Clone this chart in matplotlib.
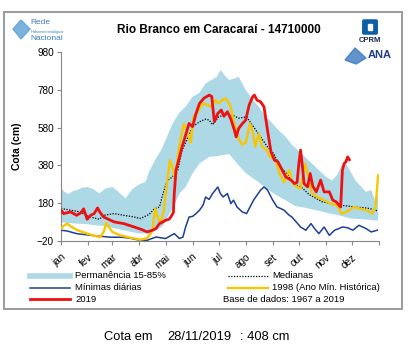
import matplotlib
matplotlib.use("Agg")
import matplotlib.pyplot as plt
import matplotlib.transforms as mtransforms
from matplotlib.patches import Rectangle, Polygon, FancyBboxPatch

plt.rcParams["font.family"] = ["Liberation Sans", "DejaVu Sans"]

# ── data (day of year, cota in cm) ──────────────────────────────────────────
months = ["jan", "fev", "mar", "abr", "mai", "jun", "jul", "ago", "set", "out", "nov", "dez"]
month_starts = [1, 32, 60, 91, 121, 152, 182, 213, 244, 274, 305, 335, 366]

band_days = [1, 5, 10, 15, 20, 25, 31, 38, 45, 52, 60, 68, 75, 83, 91, 98, 102, 110, 116,
             121, 129, 137, 144, 152, 160, 167, 175, 180, 184, 190, 194, 200, 205, 213, 220,
             228, 236, 244, 252, 259, 266, 274, 282, 289, 297, 305, 312, 318, 323, 328, 333,
             339, 345, 351, 357, 361, 365]
band_top = [260, 240, 228, 245, 250, 262, 266, 255, 232, 258, 266, 236, 205, 255, 280, 293,
            346, 417, 461, 514, 600, 660, 690, 743, 765, 814, 835, 849, 885, 850, 832, 840,
            849, 779, 735, 690, 640, 600, 560, 531, 490, 455, 420, 390, 355, 320, 300, 330,
            380, 390, 350, 300, 270, 240, 249, 200, 220]
band_low_days = [1, 10, 20, 30, 40, 50, 60, 70, 80, 90, 100, 110, 118, 125, 130, 137, 144,
                 152, 160, 171, 182, 194, 205, 213, 225, 235, 245, 257, 270, 282, 297, 310,
                 320, 332, 347, 365]
band_low = [80, 75, 72, 70, 63, 60, 50, 40, 30, 20, 20, 35, 60, 120, 160, 231, 266, 337, 390,
            425, 430, 440, 380, 340, 300, 265, 231, 200, 165, 155, 140, 125, 116, 100, 95, 88]

med_days = [1, 12, 23, 30, 35, 45, 50, 62, 73, 85, 92, 102, 108, 114, 118, 123, 129, 135,
            140, 146, 152, 160, 167, 171, 175, 182, 190, 198, 205, 214, 222, 230, 238, 245,
            253, 260, 268, 278, 286, 294, 301, 309, 317, 324, 332, 340, 347, 355, 364]
med_vals = [152, 143, 134, 115, 107, 95, 116, 125, 116, 107, 99, 120, 150, 160, 230, 300, 319,
            355, 461, 520, 584, 611, 625, 620, 595, 637, 650, 645, 630, 637, 584, 531, 478,
            443, 372, 337, 284, 260, 225, 205, 187, 180, 169, 168, 164, 158, 157, 152, 140]

min_days = [1, 8, 19, 35, 46, 58, 71, 80, 90, 100, 110, 121, 131, 137, 141, 144, 148, 152,
            156, 160, 164, 167, 171, 175, 181, 184, 187, 192, 196, 199, 203, 209, 214, 222,
            230, 234, 238, 244, 249, 253, 257, 263, 266, 276, 282, 288, 292, 297, 303, 309,
            315, 320, 324, 330, 336, 343, 351, 357, 364]
min_vals = [37, 33, 19, 10, 5, 0, 0, -5, -15, -16, 1, -7, 19, -7, 1, 54, 107, 110, 125, 143,
            169, 213, 200, 231, 266, 231, 213, 231, 178, 196, 160, 134, 125, 196, 249, 266, 250,
            196, 160, 152, 143, 116, 107, 54, 37, 72, 46, 19, 54, 10, 37, 46, 54, 50, 37, 63,
            46, 28, 37]

y1998_days = [1, 4, 8, 12, 20, 31, 42, 46, 50, 53, 56, 60, 69, 81, 92, 100, 104, 106, 109,
              112, 115, 119, 123, 126, 130, 132, 135, 138, 142, 146, 150, 153, 157, 161, 165,
              169, 173, 178, 182, 186, 190, 195, 200, 205, 209, 213, 218, 221, 224, 228, 232,
              237, 241, 247, 252, 257, 263, 267, 272, 276, 281, 285, 289, 295, 303, 310, 318,
              323, 329, 337, 345, 352, 358, 362, 365]
y1998_vals = [46, 60, 72, 58, 37, 19, 5, 0, 28, 75, 54, 28, 10, -3, -13, -5, 20, 37, 152, 107,
              72, 143, 300, 408, 355, 300, 425, 514, 600, 560, 500, 637, 655, 690, 708, 700,
              690, 726, 708, 726, 735, 700, 600, 520, 490, 500, 602, 560, 478, 549, 478, 461,
              425, 408, 337, 290, 355, 284, 266, 258, 390, 320, 231, 213, 196, 178, 169, 125,
              134, 160, 150, 143, 125, 160, 328]

y2019_days = [1, 4, 12, 19, 24, 27, 31, 35, 39, 43, 46, 50, 54, 62, 73, 85, 94, 100, 105,
              110, 114, 118, 121, 125, 127, 130, 131, 133, 137, 140, 144, 148, 152, 156, 160,
              165, 171, 174, 177, 181, 185, 188, 192, 196, 200, 202, 205, 209, 213, 217, 221,
              223, 226, 230, 234, 238, 242, 246, 250, 253, 259, 265, 269, 272, 274, 276, 278,
              280, 284, 287, 290, 294, 299, 303, 309, 313, 317, 320, 322, 324, 326, 328, 330,
              332]
y2019_vals = [143, 125, 134, 116, 130, 150, 95, 116, 125, 155, 130, 107, 98, 81, 72, 54, 40,
              28, 35, 46, 72, 81, 90, 95, 107, 130, 231, 355, 425, 478, 540, 602, 585, 655, 708,
              735, 752, 745, 611, 655, 673, 640, 664, 625, 567, 531, 576, 600, 620, 700, 743,
              752, 725, 717, 690, 567, 452, 408, 399, 372, 319, 302, 284, 290, 390, 461, 380,
              284, 266, 337, 270, 240, 302, 240, 240, 196, 187, 169, 160, 355, 390, 399, 425,
              410]

W, H = 411, 350
fig = plt.figure(figsize=(W / 100, H / 100), dpi=100)


def fx(x):
    return x / W


def fy(y):
    return 1 - y / H


# outer grey frame
fig.patches.append(Rectangle((fx(4), fy(309)), fx(398), 297 / H, transform=fig.transFigure,
                             fill=False, edgecolor="#9a9a9a", linewidth=1.4))

ax = fig.add_axes([fx(61), fy(241), fx(318), 189 / H])
ax.fill(band_days + band_low_days[::-1], band_top + band_low[::-1], color="#add8e6",
        linewidth=0, zorder=1)
ax.plot(med_days, med_vals, color="black", linestyle=(0, (1, 1.2)), linewidth=0.9, zorder=2)
ax.plot(min_days, min_vals, color="#1c3f94", linewidth=1.1, zorder=3)
ax.plot(y1998_days, y1998_vals, color="#f7c600", linewidth=1.7, zorder=4)
ax.plot(y2019_days, y2019_vals, color="#ee1111", linewidth=2.0, zorder=5)

ax.set_xlim(1, 366)
ax.set_ylim(-20, 980)
ax.set_yticks([-20, 180, 380, 580, 780, 980])
ax.set_xticks(month_starts, labels=months + [""], rotation=40, ha="right",
              rotation_mode="anchor")
shift = mtransforms.ScaledTranslation(-3 / 100, 0, fig.dpi_scale_trans)
for lbl in ax.get_xticklabels():
    lbl.set_transform(lbl.get_transform() + shift)
for s in ("top", "right"):
    ax.spines[s].set_visible(False)
for s in ("left", "bottom"):
    ax.spines[s].set_color("#868686")
    ax.spines[s].set_linewidth(0.8)
ax.tick_params(axis="both", direction="out", length=3, width=0.8, color="#868686",
               labelsize=7.2, pad=2)
ax.tick_params(axis="x", pad=5)
ax.set_ylabel("Cota (cm)", fontsize=7.5, fontweight="bold", labelpad=11)

fig.text(fx(219), fy(30), "Rio Branco em Caracaraí - 14710000", fontsize=8.5,
         fontweight="bold", ha="center", va="center")

# legend (hand placed, two columns)
leg_rows = [275.7, 287.7, 299.3]


def leg_line(x0, x1, y, **kw):
    fig.lines.append(plt.Line2D([fx(x0), fx(x1)], [fy(y), fy(y)], transform=fig.transFigure, **kw))


leg_line(30, 70, leg_rows[0], color="#add8e6", linewidth=4)
leg_line(30, 70, leg_rows[1], color="#1c3f94", linewidth=1.1)
leg_line(30, 70, leg_rows[2], color="#ee1111", linewidth=2.0)
leg_line(228, 268, leg_rows[0], color="black", linestyle=(0, (1, 1.2)), linewidth=0.9)
leg_line(228, 268, leg_rows[1], color="#f7c600", linewidth=1.7)
fs = 6.8
fig.text(fx(75), fy(leg_rows[0]), "Permanência 15-85%", fontsize=fs, va="center")
fig.text(fx(75), fy(leg_rows[1]), "Mínimas diárias", fontsize=fs, va="center")
fig.text(fx(75), fy(leg_rows[2]), "2019", fontsize=fs, va="center")
fig.text(fx(272), fy(leg_rows[0]), "Medianas", fontsize=fs, va="center")
fig.text(fx(272), fy(leg_rows[1]), "1998 (Ano Mín. Histórica)", fontsize=fs, va="center")
fig.text(fx(223), fy(leg_rows[2]), "Base de dados: 1967 a 2019", fontsize=fs, va="center")

fig.text(fx(104), fy(337), "Cota em", fontsize=9.3, va="center")
fig.text(fx(167), fy(337), "28/11/2019", fontsize=9.3, va="center")
fig.text(fx(240), fy(337), ": 408 cm", fontsize=9.3, va="center")

# logos, roughly
fig.patches.append(Polygon([(fx(13), fy(29)), (fx(21), fy(20)), (fx(30), fy(29)), (fx(21), fy(39))],
                           closed=True, transform=fig.transFigure, color="#5aa0d8", alpha=0.8))
fig.text(fx(30), fy(22), "Rede", fontsize=6, color="#3b7dc0", va="center")
fig.text(fx(31), fy(32), "Hidrometeorológica", fontsize=2.8, color="#3b7dc0", va="center")
fig.text(fx(30), fy(39), "Nacional", fontsize=6, color="#3b7dc0", va="center")

fig.patches.append(FancyBboxPatch((fx(364), fy(33)), fx(12), 12 / H,
                                  boxstyle="round,pad=0.003", transform=fig.transFigure,
                                  color="#0b5ea8"))
fig.patches.append(Rectangle((fx(368), fy(30)), fx(4), 6 / H, transform=fig.transFigure,
                             color="white"))
fig.text(fx(370), fy(40), "CPRM", fontsize=5.5, fontweight="bold", ha="center", va="center",
         color="#1a2a4a")
fig.patches.append(Polygon([(fx(345), fy(60)), (fx(355), fy(48)), (fx(366), fy(58)), (fx(356), fy(64))],
                           closed=True, transform=fig.transFigure, color="#3a78c0", alpha=0.8))
fig.text(fx(380), fy(55), "ANA", fontsize=8, fontweight="bold", ha="center", va="center",
         color="#1f3c88")

fig.savefig("out.png", dpi=100)
